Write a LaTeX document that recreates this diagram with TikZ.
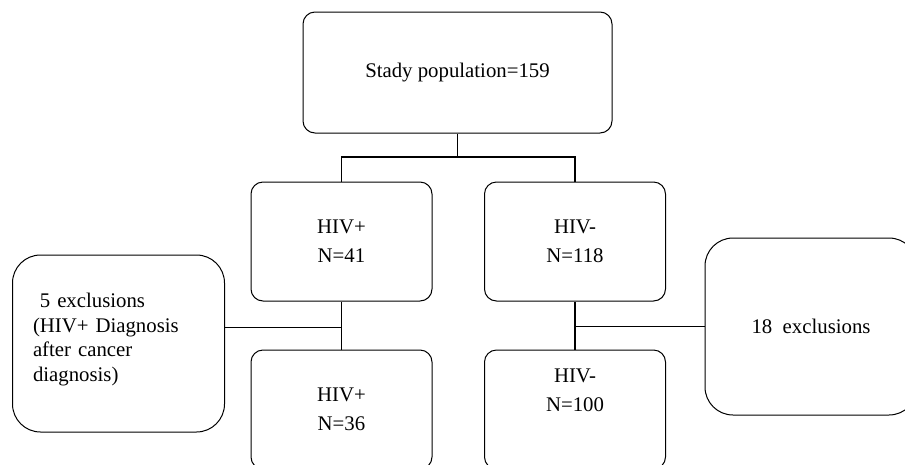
\documentclass[tikz,border=0pt]{standalone}
\usepackage{fontspec}
\setmainfont{Liberation Serif}
\usetikzlibrary{positioning}

\begin{document}
\begin{tikzpicture}[x=1pt,y=-1pt,on grid,
	font=\fontsize{20.8}{29}\selectfont,
	block/.style={draw, rounded corners=12pt, line width=1pt, align=center, inner sep=0pt,
		minimum width=181pt, minimum height=119pt},
	excl/.style={draw, rounded corners=28pt, line width=1pt, inner sep=0pt,
		minimum width=212pt, minimum height=177pt},
	link/.style={line width=1.6pt}]
	
	\clip (0,0) rectangle (905,464);
	
	\node (pop) [block, minimum width=309pt, minimum height=121pt] at (457.5,72.5) {Stady population=159};
	\node (hivp) [block, below left=169pt and 116pt of pop] {HIV+\\N=41};
	\node (hivn) [block, right=233.5pt of hivp] {HIV-\\N=118};
	\node (hivpb) [block, below=168pt of hivp] {HIV+\\N=36};
	\node (hivnb) [block, below=168pt of hivn] {HIV-\\N=100\\\strut};
	\node (exl) [excl, below left=102pt and 223pt of hivp, text width=171pt, text depth=86pt, align=left,
		font=\fontsize{20.8}{24.5}\selectfont] {\ 5 exclusions\\(HIV+ Diagnosis\\after cancer\\diagnosis)};
	\node (exr) [excl, below right=85pt and 236pt of hivn] {18~~exclusions};
	
	\coordinate (split) at (457.5,157);
	\coordinate (jl) at (341.5,327);
	
	\draw [link] (pop.south) -- (split);
	\draw [line width=1.3pt] (hivp.north) |- (split) -| (hivn.north);
	\draw [link] (hivp.south) -- (hivpb.north);
	\draw [link] (hivn.south) -- (hivnb.north);
	\draw [line width=0.9pt] (exl.east |- jl) -- (jl);
	\draw [line width=0.9pt] (exr.west) -- (exr.west -| hivn);
	
\end{tikzpicture}
\end{document}
